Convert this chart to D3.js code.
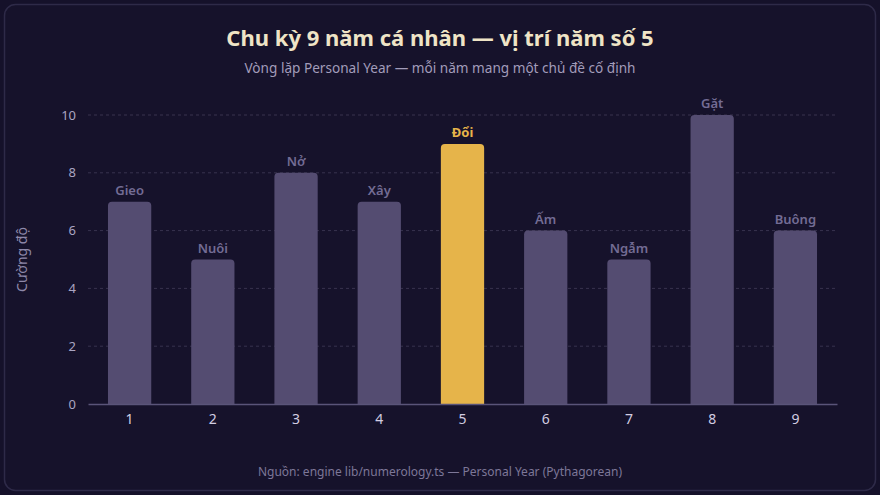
<!DOCTYPE html>
<html>
<head>
<meta charset="utf-8">
<script src="https://cdn.jsdelivr.net/npm/d3@7"></script>
<style>
  html, body { margin: 0; padding: 0; background: #15112a; }
  svg { display: block; font-family: "Noto Sans", "Open Sans", sans-serif; }
</style>
</head>
<body>
<script>
const years = ['1', '2', '3', '4', '5', '6', '7', '8', '9']
const themes = ['Gieo', 'Nuôi', 'Nở', 'Xây', 'Đổi', 'Ấm', 'Ngẫm', 'Gặt', 'Buông']
const intensity = [7, 5, 8, 7, 9, 6, 5, 10, 6]
const yTicks = [0, 2, 4, 6, 8, 10]
const currentYear = '5'

const w = 880
const h = 495
const margin = { top: 115, right: 43, bottom: 91, left: 88 }

const svg = d3.select('body')
  .append('svg')
  .attr('width', w)
  .attr('height', h)

// frame
svg.append('rect')
  .attr('x', 4.5)
  .attr('y', 4.5)
  .attr('width', w - 9)
  .attr('height', h - 9)
  .attr('rx', 11)
  .attr('fill', '#16122b')
  .attr('stroke', '#2e2a48')
  .attr('stroke-width', 1.5)

svg.append('text')
  .attr('x', w / 2)
  .attr('y', 46)
  .attr('text-anchor', 'middle')
  .attr('fill', '#efe4c6')
  .attr('font-size', 22)
  .attr('font-weight', 700)
  .text('Chu kỳ 9 năm cá nhân — vị trí năm số 5')

svg.append('text')
  .attr('x', w / 2)
  .attr('y', 73)
  .attr('text-anchor', 'middle')
  .attr('fill', '#a29cba')
  .attr('font-size', 13.6)
  .text('Vòng lặp Personal Year — mỗi năm mang một chủ đề cố định')

const xScale = d3.scaleBand()
  .domain(years)
  .range([margin.left, w - margin.right])
  .paddingInner(0.48)
  .paddingOuter(0.24)

const yScale = d3.scaleLinear()
  .domain([0, 10])
  .range([h - margin.bottom, margin.top])

// grid
svg.append('g')
  .selectAll('line')
  .data(yTicks.filter(t => t > 0))
  .enter()
  .append('line')
  .attr('x1', margin.left)
  .attr('x2', w - margin.right)
  .attr('y1', d => yScale(d))
  .attr('y2', d => yScale(d))
  .attr('stroke', '#38334f')
  .attr('stroke-dasharray', '3,3')

const yAxis = d3.axisLeft(yScale).tickValues(yTicks).tickSize(0).tickPadding(12)
const yg = svg.append('g')
  .attr('transform', `translate(${margin.left}, 0)`)
  .call(yAxis)
yg.select('.domain').remove()
yg.selectAll('text')
  .attr('fill', '#aaa5c2')
  .attr('font-size', 13)
  .attr('font-family', '"Noto Sans", sans-serif')

const data = years.map((y, i) => ({ year: y, theme: themes[i], value: intensity[i] }))

const r = 4
const barPath = d => {
  const x0 = xScale(d.year)
  const x1 = x0 + xScale.bandwidth()
  const y0 = yScale(0)
  const y1 = yScale(d.value)
  return `M${x0},${y0}V${y1 + r}Q${x0},${y1} ${x0 + r},${y1}H${x1 - r}Q${x1},${y1} ${x1},${y1 + r}V${y0}Z`
}

svg.append('g')
  .selectAll('path')
  .data(data)
  .enter()
  .append('path')
  .attr('d', barPath)
  .attr('fill', d => d.year === currentYear ? '#e6b44a' : '#544c71')

svg.append('g')
  .selectAll('text')
  .data(data)
  .enter()
  .append('text')
  .attr('x', d => xScale(d.year) + xScale.bandwidth() / 2)
  .attr('y', d => yScale(d.value) - 7)
  .attr('text-anchor', 'middle')
  .attr('font-size', 13)
  .attr('font-weight', d => d.year === currentYear ? 700 : 600)
  .attr('fill', d => d.year === currentYear ? '#e6b44a' : '#736c94')
  .text(d => d.theme)

const xAxis = d3.axisBottom(xScale).tickSize(0).tickPadding(10)
const xg = svg.append('g')
  .attr('transform', `translate(0, ${yScale(0)})`)
  .call(xAxis)
xg.select('.domain')
  .attr('stroke', '#5a5479')
  .attr('stroke-width', 1.5)
xg.selectAll('text')
  .attr('fill', '#d2cde2')
  .attr('font-size', 14)
  .attr('font-family', '"Noto Sans", sans-serif')

svg.append('text')
  .attr('transform', `translate(27, ${(yScale(0) + yScale(10)) / 2}) rotate(-90)`)
  .attr('text-anchor', 'middle')
  .attr('fill', '#8e88a9')
  .attr('font-size', 14)
  .text('Cường độ')

svg.append('text')
  .attr('x', w / 2)
  .attr('y', 476)
  .attr('text-anchor', 'middle')
  .attr('fill', '#7d7798')
  .attr('font-size', 12)
  .text('Nguồn: engine lib/numerology.ts — Personal Year (Pythagorean)')
</script>
</body>
</html>
